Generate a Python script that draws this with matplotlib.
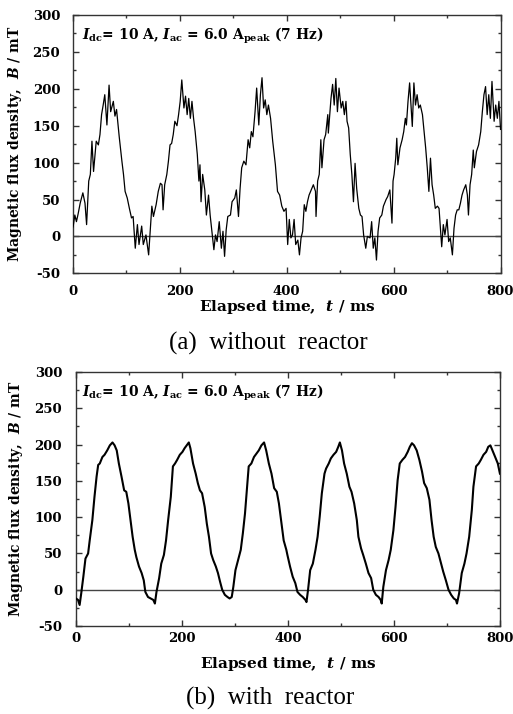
import matplotlib
matplotlib.use('Agg')
import matplotlib.pyplot as plt
from matplotlib.ticker import MultipleLocator

# (a) without reactor: elapsed time (ms) and flux density (mT)
t_a = [0, 1, 4, 7, 10, 14, 19, 23, 26, 30, 33, 36, 39, 44, 48, 51, 54, 57, 60, 64,
       68, 71, 76, 79, 82, 87, 92, 95, 98, 102, 106, 110, 113, 117, 121, 124, 129, 132, 137, 142,
       145, 148, 151, 156, 160, 164, 167, 169, 172, 176, 179, 182, 185, 188, 191, 195, 198, 201, 204, 208,
       211, 214, 217, 220, 223, 226, 229, 233, 236, 238, 240, 243, 247, 250, 254, 257, 260, 264, 267, 270,
       274, 278, 281, 284, 287, 290, 295, 298, 303, 306, 310, 313, 316, 320, 324, 328, 331, 334, 337, 341,
       344, 348, 351, 354, 357, 360, 363, 366, 370, 374, 379, 383, 387, 391, 395, 399, 402, 405, 408, 411,
       414, 417, 421, 424, 427, 430, 433, 436, 439, 442, 447, 450, 454, 455, 458, 461, 464, 466, 470, 473,
       477, 478, 483, 486, 489, 492, 495, 498, 502, 505, 508, 511, 513, 516, 519, 522, 525, 528, 531, 535,
       538, 541, 544, 548, 551, 556, 559, 562, 565, 568, 571, 574, 578, 581, 586, 589, 593, 597, 599, 601,
       604, 606, 608, 612, 616, 619, 622, 624, 627, 630, 633, 635, 638, 641, 644, 647, 650, 654, 657, 660,
       663, 666, 669, 672, 675, 678, 682, 685, 688, 690, 693, 696, 700, 703, 706, 710, 713, 716, 719, 722,
       725, 728, 731, 735, 738, 740, 743, 746, 749, 751, 755, 759, 763, 766, 769, 772, 775, 778, 781, 784,
       788, 791, 794, 797, 800]
b_a = [12, 14, 29, 20, 30, 45, 59, 45, 16, 75, 84, 129, 88, 129, 124, 138, 165, 178, 192, 151,
       205, 169, 183, 163, 172, 135, 102, 84, 61, 52, 38, 25, 27, -16, 16, -11, 14, -11, 2, -25,
       9, 41, 27, 43, 61, 72, 70, 36, 70, 84, 102, 124, 126, 138, 156, 150, 165, 183, 212, 174,
       190, 165, 187, 160, 183, 160, 142, 111, 75, 97, 47, 84, 63, 29, 56, 29, 9, -18, 2, -7,
       20, -16, 7, -27, 9, 27, 29, 47, 52, 63, 27, 65, 93, 102, 97, 131, 120, 142, 135, 169,
       201, 151, 192, 215, 174, 185, 165, 178, 160, 129, 97, 61, 56, 41, 34, 38, -11, 23, -2, 2,
       23, -11, -5, -25, -2, 7, 43, 34, 47, 56, 65, 70, 61, 27, 75, 84, 131, 93, 131, 138,
       165, 140, 187, 206, 178, 214, 169, 201, 174, 183, 165, 183, 156, 147, 111, 84, 47, 99, 65, 38,
       29, 27, 2, -16, 0, -2, 20, -16, -2, -32, 7, 25, 29, 41, 50, 54, 63, 18, 75, 84,
       106, 133, 97, 120, 131, 142, 160, 151, 183, 208, 174, 149, 208, 178, 192, 174, 178, 165, 142, 120,
       93, 61, 106, 70, 56, 38, 41, 38, 7, -14, 16, 2, 23, -7, -2, -25, 11, 29, 36, 36,
       45, 56, 63, 70, 56, 29, 70, 84, 117, 93, 115, 124, 142, 169, 192, 203, 165, 192, 160, 210,
       156, 178, 160, 183, 145]

# (b) with reactor
t_b = [0, 4, 7, 10, 14, 18, 23, 26, 31, 35, 39, 42, 45, 50, 54, 59, 64, 69, 73, 77,
       81, 86, 91, 95, 99, 103, 107, 111, 114, 119, 124, 128, 131, 136, 141, 146, 149, 152, 157, 161,
       166, 170, 174, 179, 183, 187, 191, 196, 201, 205, 209, 213, 216, 221, 226, 230, 234, 238, 243, 247,
       251, 255, 259, 264, 268, 272, 276, 281, 286, 290, 294, 297, 301, 306, 311, 315, 319, 323, 326, 331,
       336, 341, 345, 350, 355, 359, 364, 369, 374, 379, 383, 387, 392, 397, 399, 404, 409, 414, 418, 423,
       428, 433, 435, 438, 442, 447, 452, 456, 460, 464, 469, 472, 477, 481, 486, 491, 495, 498, 502, 506,
       511, 516, 520, 525, 530, 533, 538, 542, 547, 552, 557, 561, 566, 571, 575, 577, 580, 585, 590, 594,
       599, 603, 607, 611, 616, 621, 626, 630, 634, 638, 643, 648, 653, 657, 662, 667, 671, 675, 679, 684,
       689, 693, 698, 703, 708, 713, 717, 719, 723, 728, 733, 737, 742, 747, 750, 755, 760, 764, 769, 774,
       778, 782, 786, 791, 796, 800]
b_b = [-12, -14, -21, -5, 18, 43, 50, 68, 96, 128, 156, 172, 174, 183, 186, 192, 199, 203, 199, 192,
       174, 156, 137, 135, 119, 96, 73, 55, 45, 32, 23, 13, -3, -10, -12, -14, -19, -3, 16, 36,
       48, 68, 96, 128, 170, 174, 179, 186, 190, 195, 199, 203, 195, 174, 160, 147, 137, 133, 114, 91,
       73, 50, 41, 32, 23, 11, 0, -7, -10, -12, -10, 4, 27, 41, 55, 78, 105, 142, 170, 174,
       183, 188, 192, 199, 203, 192, 174, 160, 140, 135, 119, 96, 68, 55, 48, 32, 18, 9, -3, -7,
       -10, -14, -17, 0, 27, 36, 55, 73, 101, 133, 160, 167, 174, 181, 186, 190, 197, 203, 192, 174,
       160, 142, 135, 119, 96, 73, 57, 48, 36, 23, 16, 0, -7, -10, -14, -19, 4, 27, 41, 55,
       82, 114, 151, 174, 179, 183, 190, 197, 202, 199, 192, 179, 163, 147, 140, 124, 96, 73, 59, 50,
       36, 25, 13, 0, -7, -12, -14, -19, -5, 23, 36, 50, 73, 110, 142, 170, 174, 179, 186, 190,
       197, 199, 192, 183, 174, 160]

note = r"$I_{\rm dc}$= 10 A, $I_{\rm ac}$ = 6.0 A$_{\rm peak}$ (7 Hz)"
captions = ['(a)  without  reactor', '(b)  with  reactor']

plt.rcParams['font.family'] = 'DejaVu Serif'
plt.rcParams['font.weight'] = 'bold'
plt.rcParams['axes.labelweight'] = 'bold'
plt.rcParams['axes.unicode_minus'] = False
plt.rcParams['mathtext.fontset'] = 'custom'
plt.rcParams['mathtext.rm'] = 'DejaVu Serif:bold'
plt.rcParams['mathtext.it'] = 'DejaVu Serif:italic:bold'
plt.rcParams['mathtext.bf'] = 'DejaVu Serif:bold'

fig = plt.figure(figsize=(5.13, 7.14), dpi=100)
ax1 = fig.add_axes([0.1417, 0.6172, 0.834, 0.3618])
ax2 = fig.add_axes([0.148, 0.1232, 0.8265, 0.3557])


def style_axes(ax, t, b, lw, xpad, ypad, xlab_y, ylab_x, note_x):
    ax.plot(t, b, color='black', linewidth=lw, zorder=3)
    ax.axhline(0, color='#444444', linewidth=1.0, zorder=2)
    ax.set_xlim(0, 800)
    ax.set_ylim(-50, 300)
    ax.xaxis.set_major_locator(MultipleLocator(200))
    ax.xaxis.set_minor_locator(MultipleLocator(100))
    ax.yaxis.set_major_locator(MultipleLocator(50))
    ax.yaxis.set_minor_locator(MultipleLocator(25))
    ax.tick_params(which='both', direction='in', top=True, right=True, width=1.0, color='#333333')
    ax.tick_params(which='major', length=4, labelsize=9.5)
    ax.tick_params(which='minor', length=2.5)
    ax.tick_params(axis='x', pad=xpad)
    ax.tick_params(axis='y', pad=ypad)
    for sp in ax.spines.values():
        sp.set_linewidth(1.0)
        sp.set_color('#333333')
    ax.set_xlabel(r'Elapsed time,  $t$ / ms', fontsize=11)
    ax.set_ylabel(r'Magnetic flux density,  $B$ / mT', fontsize=10)
    ax.xaxis.set_label_coords(0.5, xlab_y)
    ax.yaxis.set_label_coords(ylab_x, 0.5)
    ax.text(note_x, 0.919, note, transform=ax.transAxes, fontsize=10,
            ha='left', va='center')


style_axes(ax1, t_a, b_a, 0.9, 8.5, 9, -0.096, -0.114, 0.022)
style_axes(ax2, t_b, b_b, 1.5, 4.5, 10, -0.114, -0.120, 0.014)

fig.text(268 / 513, 1 - 343 / 714, captions[0], fontsize=18, family='Liberation Serif',
         fontweight='normal', ha='center', va='center')
fig.text(270 / 513, 1 - 698 / 714, captions[1], fontsize=18, family='Liberation Serif',
         fontweight='normal', ha='center', va='center')

fig.savefig('out.png', dpi=100)
